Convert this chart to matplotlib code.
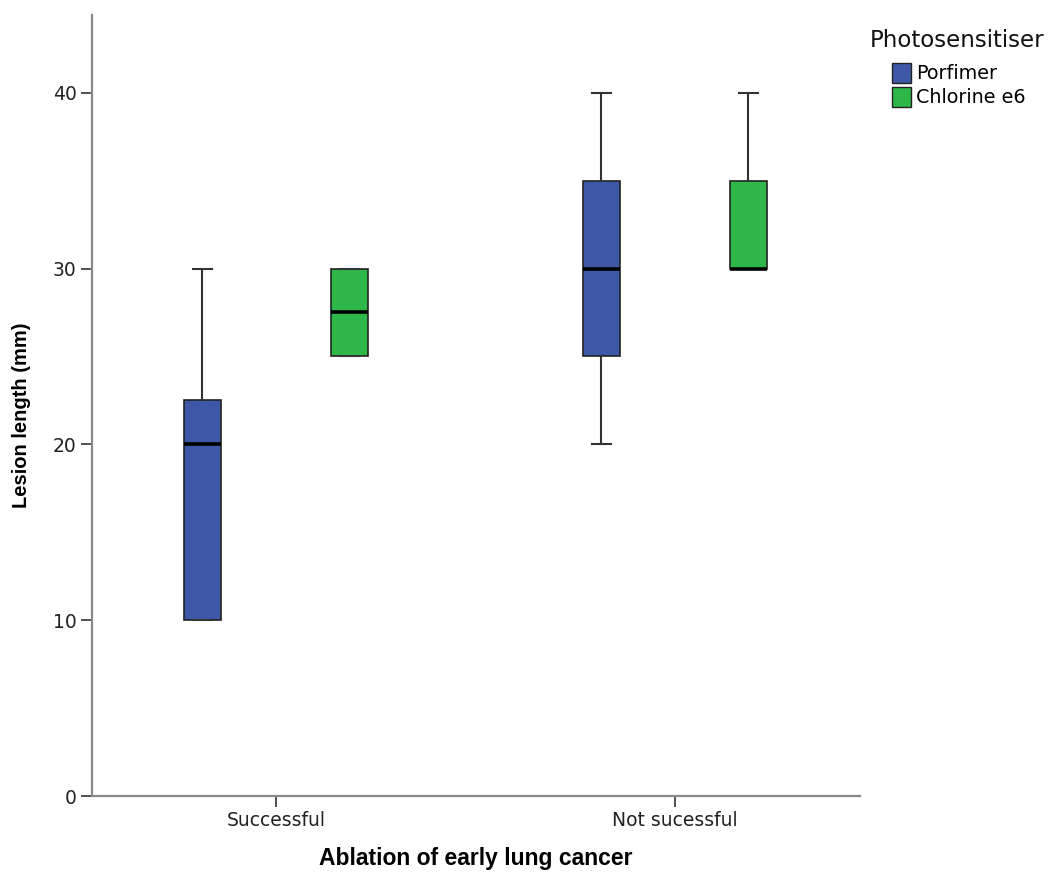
import matplotlib.pyplot as plt
from matplotlib.patches import Patch

# Lesion length (mm) summaries per ablation outcome and photosensitiser
outcomes = ['Successful', 'Not sucessful']
groups = ['Porfimer', 'Chlorine e6']
colors = ['#3E58A8', '#2EB84A']

whislo = [[10, 25], [20, 30]]
q1 = [[10, 25], [25, 30]]
med = [[20, 27.5], [30, 30]]
q3 = [[22.5, 30], [35, 35]]
whishi = [[30, 30], [40, 40]]

fig = plt.figure(figsize=(10.56, 8.76), dpi=100)
ax = fig.add_axes([0.0871, 0.0913, 0.7273, 0.892])

offsets = [-0.184, 0.184]
for g, name in enumerate(groups):
    stats = []
    for i in range(len(outcomes)):
        stats.append({'whislo': whislo[i][g], 'q1': q1[i][g], 'med': med[i][g],
                      'q3': q3[i][g], 'whishi': whishi[i][g], 'fliers': []})
    pos = [i + offsets[g] for i in range(len(outcomes))]
    ax.bxp(stats, positions=pos, widths=0.093, patch_artist=True, showfliers=False,
           boxprops=dict(facecolor=colors[g], edgecolor='#222222', linewidth=1.2),
           medianprops=dict(color='black', linewidth=2.6),
           whiskerprops=dict(color='#333333', linewidth=1.5),
           capprops=dict(color='#333333', linewidth=1.5),
           capwidths=0.048)

ax.set_xlim(-0.461, 1.464)
ax.set_ylim(0, 44.44)
ax.set_xticks(range(len(outcomes)))
ax.set_xticklabels(outcomes)
ax.set_yticks([0, 10, 20, 30, 40])

for side in ['top', 'right']:
    ax.spines[side].set_visible(False)
for side in ['left', 'bottom']:
    ax.spines[side].set_color('#8a8a8a')
    ax.spines[side].set_linewidth(1.6)
ax.tick_params(axis='both', length=8, width=1.2, color='#333333',
               labelsize=13.5, labelcolor='#222222', pad=3)

ax.set_ylabel('Lesion length (mm)', fontsize=14.5, fontweight='bold',
              family='Liberation Sans')
ax.yaxis.set_label_coords(-0.079, 0.487)
ax.set_xlabel('Ablation of early lung cancer', fontsize=16.5, fontweight='bold',
              family='Liberation Sans', labelpad=12)

fig.text(0.824, 0.954, 'Photosensitiser', fontsize=16.5, color='#111111', va='center')
handles = [Patch(facecolor=c, edgecolor='#222222', label=n) for c, n in zip(colors, groups)]
fig.legend(handles=handles, loc='upper left', bbox_to_anchor=(0.845, 0.928),
           frameon=False, fontsize=13.8, handlelength=0.95, handleheight=1.2,
           handletextpad=0.3, labelspacing=0.2, borderaxespad=0, borderpad=0)

fig.savefig('out.png', dpi=100, facecolor='white')
